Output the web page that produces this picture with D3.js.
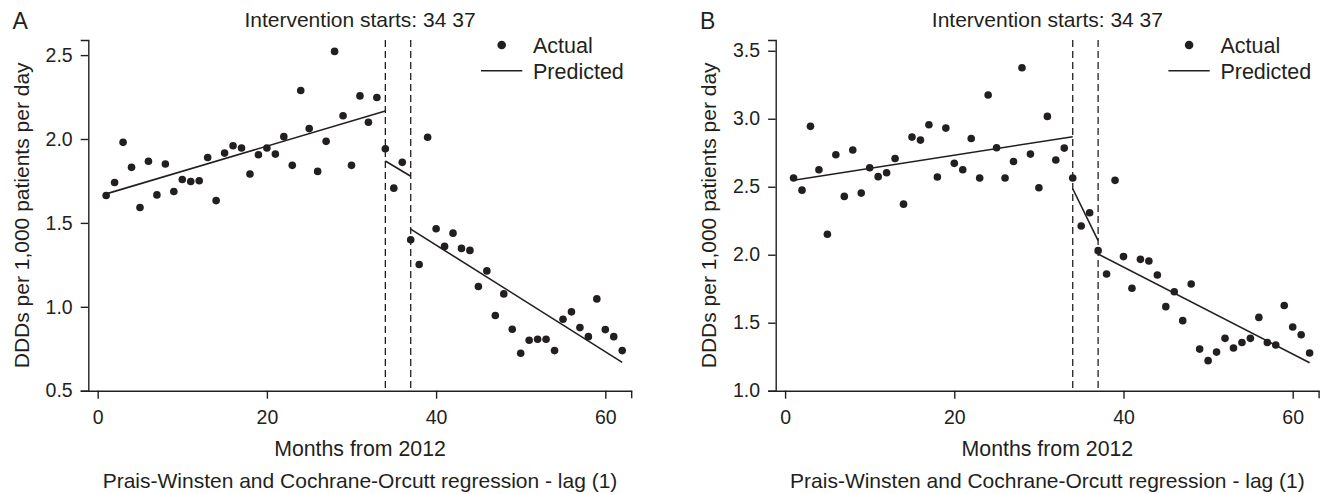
<!DOCTYPE html>
<html>
<head>
<meta charset="utf-8">
<script src="https://cdn.jsdelivr.net/npm/d3@7"></script>
<style>
  body { margin: 0; background: #fff; }
  svg text { font-family: "Liberation Sans", Arial, Helvetica, sans-serif; fill: #231f20; }
</style>
</head>
<body>
<div id="chart"></div>
<script>
// month index (x)
const months = [1, 2, 3, 4, 5, 6, 7, 8, 9, 10, 11, 12, 13, 14, 15, 16, 17, 18, 19, 20,
    21, 22, 23, 24, 25, 26, 27, 28, 29, 30, 31, 32, 33, 34, 35, 36, 37, 38, 39, 40,
    41, 42, 43, 44, 45, 46, 47, 48, 49, 50, 51, 52, 53, 54, 55, 56, 57, 58, 59, 60, 61, 62];

// panel A - actual DDDs
const actualA = [1.663, 1.741, 1.980, 1.831, 1.592, 1.867, 1.667, 1.851, 1.687, 1.759,
    1.747, 1.751, 1.890, 1.633, 1.916, 1.960, 1.946, 1.791, 1.906, 1.946,
    1.910, 2.014, 1.843, 2.289, 2.062, 1.807, 1.986, 2.522, 2.139, 1.843,
    2.257, 2.100, 2.247, 1.942, 1.707, 1.861, 1.400, 1.252, 2.010, 1.465,
    1.360, 1.439, 1.348, 1.336, 1.121, 1.214, 0.948, 1.077, 0.866, 0.723,
    0.801, 0.807, 0.807, 0.739, 0.926, 0.970, 0.876, 0.822, 1.047, 0.864, 0.822, 0.739];

// panel B - actual DDDs
const actualB = [2.564, 2.475, 2.944, 2.625, 2.150, 2.735, 2.429, 2.770, 2.453, 2.640,
    2.574, 2.603, 2.708, 2.372, 2.865, 2.843, 2.956, 2.571, 2.931, 2.672,
    2.625, 2.855, 2.564, 3.174, 2.787, 2.564, 2.686, 3.375, 2.740, 2.492,
    3.017, 2.696, 2.784, 2.564, 2.211, 2.309, 2.030, 1.858, 2.547, 1.986,
    1.753, 1.966, 1.954, 1.851, 1.618, 1.728, 1.515, 1.785, 1.306, 1.221,
    1.284, 1.385, 1.314, 1.355, 1.385, 1.539, 1.355, 1.336, 1.627, 1.468, 1.412, 1.277];

// predicted segments (start month, end month, start value, end value)
const segStart = [1, 34, 37];
const segEnd = [34, 37, 62];
const predA_start = [1.673, 1.869, 1.463];
const predA_end = [2.167, 1.778, 0.669];
const predB_start = [2.547, 2.485, 2.005];
const predB_end = [2.868, 2.103, 1.206];

const interventions = [34, 37];

const xTicks = [0, 20, 40, 60];
const yTicksA = [0.5, 1.0, 1.5, 2.0, 2.5];
const yTicksB = [1.0, 1.5, 2.0, 2.5, 3.0, 3.5];

const ink = "#231f20";
const W = 1322, H = 494;

const svg = d3.select("#chart")
    .append("svg")
    .attr("width", W)
    .attr("height", H);

function draw_panel(offsetX, letter, actual, predStart, predEnd, yDomain, yTicks) {
    const g = svg.append("g")
        .attr("transform", "translate(" + offsetX + ",0)");

    const left = 88.3, right = 631.7, top = 40, bottom = 390.7;

    const x = d3.scaleLinear()
        .domain([-1.11, 63.12])
        .range([left, right]);
    const y = d3.scaleLinear()
        .domain(yDomain)
        .range([bottom, top]);

    // y axis with end caps
    const gy = g.append("g")
        .attr("transform", "translate(" + left + ",0)")
        .call(d3.axisLeft(y).tickValues(yTicks).tickFormat(d3.format(".1f"))
            .tickSize(7.6).tickSizeOuter(7.6).tickPadding(8));
    gy.selectAll("text").style("font-size", "19.5px").attr("fill", ink);

    // x axis
    const gx = g.append("g")
        .attr("transform", "translate(0," + bottom + ")")
        .call(d3.axisBottom(x).tickValues(xTicks).tickSize(8).tickSizeOuter(0).tickPadding(11));
    gx.selectAll("text").style("font-size", "19.5px").attr("fill", ink);
    gx.append("line")
        .attr("x1", right).attr("x2", right)
        .attr("y1", 0).attr("y2", 7.6);

    g.selectAll(".domain, .tick line, line")
        .attr("stroke", ink)
        .attr("stroke-width", 1.4);
    g.selectAll(".domain").attr("fill", "none");

    // intervention lines
    g.selectAll(".vline")
        .data(interventions)
        .enter().append("line")
        .attr("class", "vline")
        .attr("x1", d => x(d)).attr("x2", d => x(d))
        .attr("y1", top).attr("y2", bottom)
        .attr("stroke", ink)
        .attr("stroke-width", 1.3)
        .attr("stroke-dasharray", "7,4");

    // predicted segments
    const segs = segStart.map((s, i) => [[s, predStart[i]], [segEnd[i], predEnd[i]]]);
    const line = d3.line().x(d => x(d[0])).y(d => y(d[1]));
    g.selectAll(".pred")
        .data(segs)
        .enter().append("path")
        .attr("class", "pred")
        .attr("d", line)
        .attr("fill", "none")
        .attr("stroke", ink)
        .attr("stroke-width", 1.6);

    // actual points
    g.selectAll(".pt")
        .data(months.map((m, i) => ({month: m, value: actual[i]})))
        .enter().append("circle")
        .attr("class", "pt")
        .attr("cx", d => x(d.month))
        .attr("cy", d => y(d.value))
        .attr("r", 3.8)
        .attr("fill", ink);

    // legend
    g.append("circle")
        .attr("cx", 501.7).attr("cy", 45).attr("r", 4.3).attr("fill", ink);
    g.append("text")
        .attr("x", 533).attr("y", 52.7)
        .style("font-size", "21.5px")
        .text("Actual");
    g.append("line")
        .attr("x1", 481).attr("x2", 522.3)
        .attr("y1", 70.7).attr("y2", 70.7)
        .attr("stroke", ink).attr("stroke-width", 1.6);
    g.append("text")
        .attr("x", 533).attr("y", 78.7)
        .style("font-size", "21.5px")
        .text("Predicted");

    // titles and labels
    const cx = (left + right) / 2;
    g.append("text")
        .attr("x", 12.5).attr("y", 29.3)
        .style("font-size", "23px")
        .text(letter);
    g.append("text")
        .attr("x", cx).attr("y", 27)
        .attr("text-anchor", "middle")
        .style("font-size", "21px")
        .text("Intervention starts: " + interventions.join(" "));
    g.append("text")
        .attr("transform", "translate(29," + ((top + bottom) / 2) + ") rotate(-90)")
        .attr("text-anchor", "middle")
        .style("font-size", "21px")
        .text("DDDs per 1,000 patients per day");
    g.append("text")
        .attr("x", cx).attr("y", 455.7)
        .attr("text-anchor", "middle")
        .style("font-size", "21.3px")
        .text("Months from 2012");
    g.append("text")
        .attr("x", cx).attr("y", 488.3)
        .attr("text-anchor", "middle")
        .style("font-size", "21px")
        .text("Prais-Winsten and Cochrane-Orcutt regression - lag (1)");
}

draw_panel(0, "A", actualA, predA_start, predA_end, [0.5, 2.59], yTicksA);
draw_panel(687.4, "B", actualB, predB_start, predB_end, [1.0, 3.579], yTicksB);
</script>
</body>
</html>
